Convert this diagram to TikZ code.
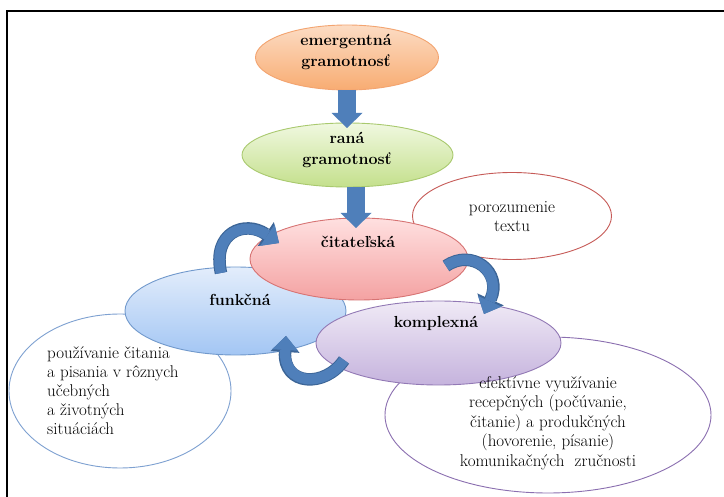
\documentclass[tikz,border=0pt]{standalone}
\usepackage{fontspec}
\usetikzlibrary{shapes.geometric,arrows.meta}
\definecolor{orfill1}{HTML}{FCDCC4}
\definecolor{orfill2}{HTML}{F8AC72}
\definecolor{orline}{HTML}{F3A470}
\definecolor{grfill1}{HTML}{F0F8E0}
\definecolor{grfill2}{HTML}{C4E08C}
\definecolor{grline}{HTML}{A9C96E}
\definecolor{rdfill1}{HTML}{FFE0E0}
\definecolor{rdfill2}{HTML}{F4A2A2}
\definecolor{rdline}{HTML}{D77373}
\definecolor{blfill1}{HTML}{E3EDFB}
\definecolor{blfill2}{HTML}{A3C6F4}
\definecolor{blline}{HTML}{7199CC}
\definecolor{pufill1}{HTML}{F0EAF6}
\definecolor{pufill2}{HTML}{C5B3DD}
\definecolor{puline}{HTML}{9279B5}
\definecolor{porline}{HTML}{C65A57}
\definecolor{leftline}{HTML}{7EA1D1}
\definecolor{rightline}{HTML}{8B6FB0}
\definecolor{arrowblue}{HTML}{4F7FBA}
\definecolor{arrowdark}{HTML}{3C6597}
\begin{document}
\begin{tikzpicture}[x=1pt,y=-1pt,
  bubble/.style={ellipse, inner sep=0pt, line width=0.9pt},
  note/.style={ellipse, inner sep=0pt, line width=0.9pt, fill=white},
  lab/.style={align=center, font=\bfseries\fontsize{16}{21}\selectfont, inner sep=0pt},
  txt/.style={font=\fontsize{17}{19}\selectfont, inner sep=0pt},
  blockarrow/.style={line width=18pt, draw=arrowblue, -{Triangle[width=31pt,length=15pt,line width=0pt]}},
  curvarrow/.style={line width=10.5pt, draw=arrowblue, -{Triangle[width=26pt,length=14pt,line width=0pt]},
    preaction={draw=arrowdark, line width=12.5pt, -{Triangle[width=29pt,length=16pt,line width=0pt]}}}
]
\useasboundingbox (0,0) rectangle (724,497);
\fill[white] (0,0) rectangle (724,497);
% frame
\draw[line width=2.5pt, black] (724,11) -- (7,11) -- (7,497);

% white note ellipses
\node[note, draw=porline, minimum width=199pt, minimum height=87pt] (por) at (512,216) {};
\node[note, draw=leftline, minimum width=222pt, minimum height=154pt] (lnote) at (120,391) {};
\node[note, draw=rightline, minimum width=326pt, minimum height=156pt] (rnote) at (548,415) {};

% main ellipses
\node[bubble, draw=orline, top color=orfill1, bottom color=orfill2, minimum width=183pt, minimum height=65pt] (emerg) at (347,57.5) {};
\node[bubble, draw=grline, top color=grfill1, bottom color=grfill2, minimum width=211pt, minimum height=64pt] (rana) at (347.5,155) {};
\node[bubble, draw=blline, top color=blfill1, bottom color=blfill2, minimum width=221pt, minimum height=88pt] (funk) at (235.5,311) {};
\node[bubble, draw=rdline, top color=rdfill1, bottom color=rdfill2, minimum width=218pt, minimum height=82pt] (cit) at (359,259) {};
\node[bubble, draw=puline, top color=pufill1, bottom color=pufill2, minimum width=245pt, minimum height=84pt] (kompl) at (438.5,343) {};

% labels
\node[lab] (temerg) at (346,52) {emergentná\\gramotnosť};
\node[lab] (trana) at (347,150) {raná\\gramotnosť};
\node[lab] (tcit) at (358,242) {čitateľská};
\node[lab] (tfunk) at (240,300) {funkčná};
\node[lab] (tkompl) at (436,323) {komplexná};

\node[txt, align=center] (tpor) at (512,217) {porozumenie\\textu};
\node[txt, align=left, anchor=west] (tleft) at (47,391) {používanie čitania\\a pisania v rôznych\\učebných\\a životných\\situáciách};
\node[txt, align=center, font=\fontsize{17}{19.5}\selectfont] (tright) at (548,423) {efektívne využívanie\\recepčných (počúvanie,\\čitanie) a produkčných\\(hovorenie, písanie)\\komunikačných\ \ zručnosti};

% straight block arrows
\coordinate (a1s) at (347,90);
\coordinate (a1e) at (347,128);
\coordinate (a2s) at (356,187);
\coordinate (a2e) at (356,228);
\draw[blockarrow] (a1s) -- (a1e);
\draw[blockarrow] (a2s) -- (a2e);

% curved arrows
\coordinate (c1s) at (221,273);
\coordinate (c1e) at (279,243);
\draw[curvarrow] (c1s) .. controls (212,232) and (245,220) .. (c1e);
\coordinate (c2s) at (446,266);
\coordinate (c2e) at (484,314);
\draw[curvarrow] (c2s) .. controls (472,248) and (503,272) .. (c2e);
\coordinate (c3s) at (344,360);
\coordinate (c3e) at (286,336);
\draw[curvarrow] (c3s) .. controls (325,388) and (283,386) .. (c3e);
\end{tikzpicture}
\end{document}
